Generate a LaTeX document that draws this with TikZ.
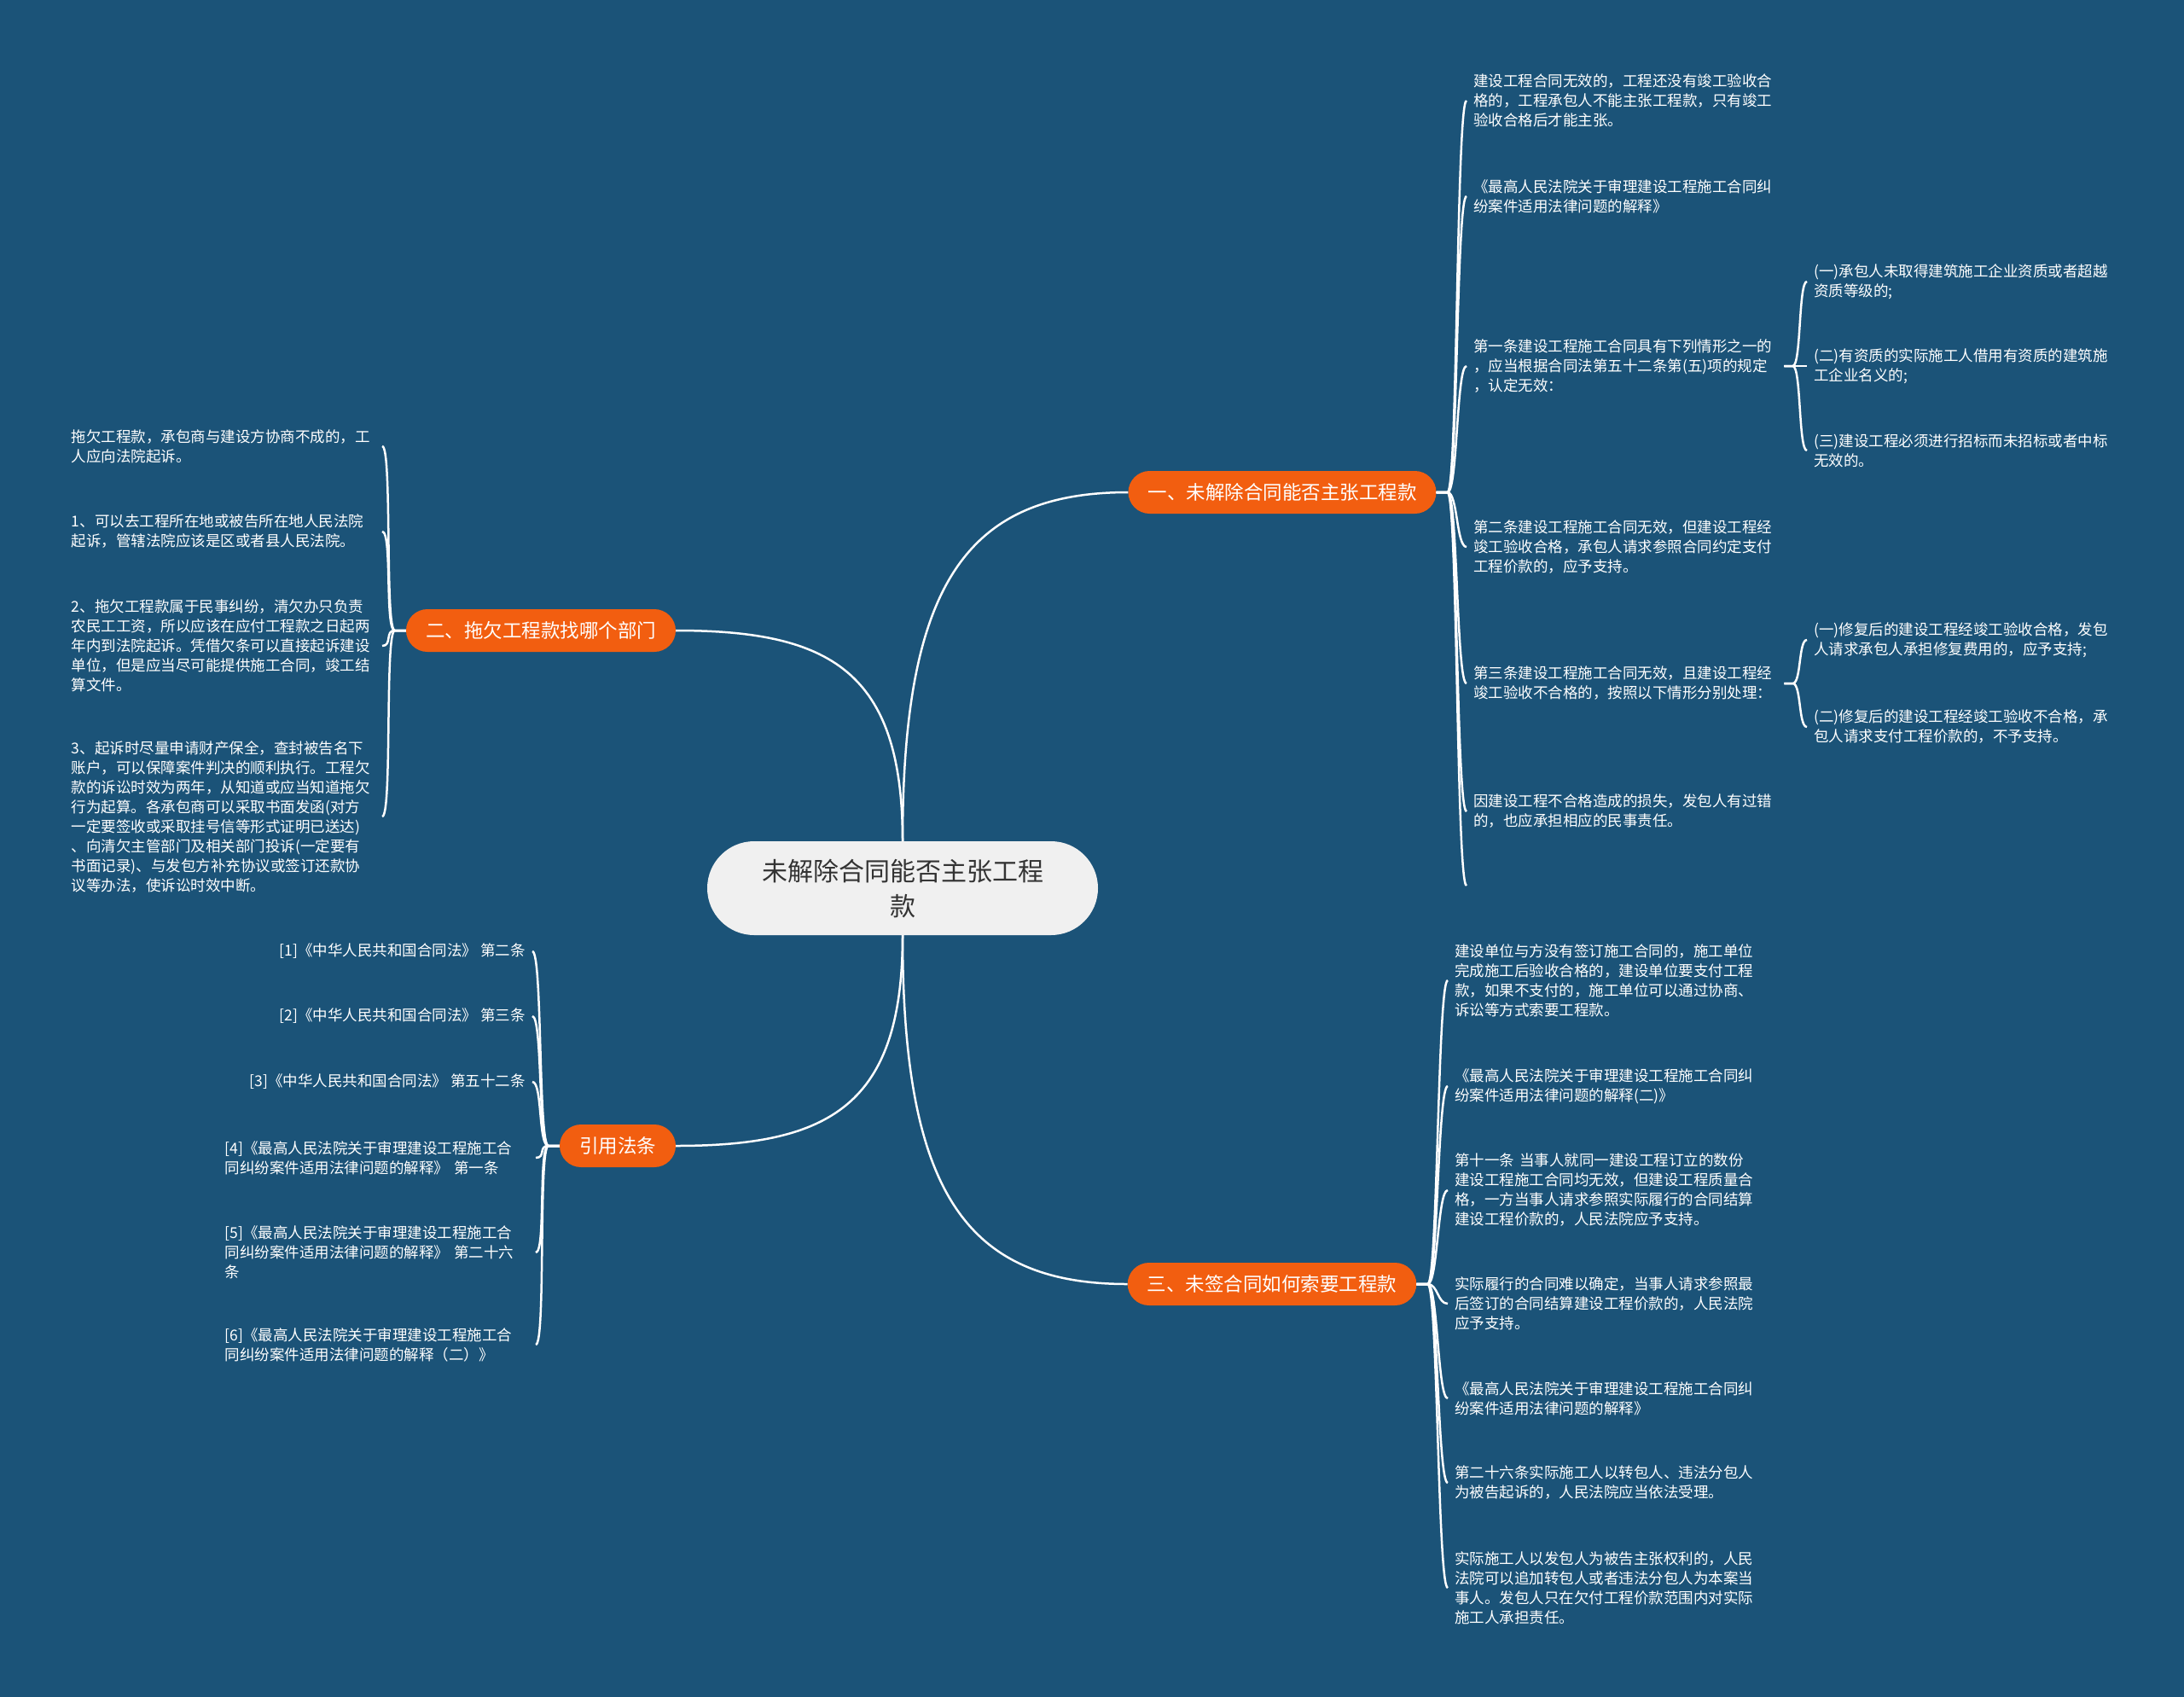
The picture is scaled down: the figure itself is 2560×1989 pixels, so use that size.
\documentclass[tikz,border=0pt]{standalone}
\usepackage{fontspec}
\setmainfont{Noto Sans CJK SC}
\definecolor{bgblue}{RGB}{27,83,120}
\definecolor{topicorange}{RGB}{242,94,16}
\definecolor{rootgray}{RGB}{240,240,240}
\definecolor{rootink}{RGB}{51,51,51}

\begin{document}
\begin{tikzpicture}[x=1pt,y=-1pt,
    link/.style={white,line width=2.5pt},
    root/.style={fill=rootgray,text=rootink,rounded corners=55pt,minimum width=458pt,minimum height=110pt,align=center,font=\fontsize{30}{41}\selectfont},
    topic/.style={fill=topicorange,text=white,rounded corners=25pt,minimum height=50pt,inner xsep=23pt,font=\fontsize{22.5}{27}\selectfont},
    leaf/.style={text=white,font=\fontsize{17.5}{23}\selectfont,inner xsep=8pt,inner ysep=2pt,text width=356pt,align=left},
    refleaf/.style={text=white,font=\fontsize{17.5}{23}\selectfont,inner xsep=8pt,inner ysep=2pt,align=right}]

    \fill[bgblue] (0,0) rectangle (2560,1989);

    \node[root] (root) at (1058,1041) {未解除合同能否主张工程\\款};

    \node[topic] (b1) at (1503,577) {一、未解除合同能否主张工程款};
    \node[topic] (b2) at (634,739) {二、拖欠工程款找哪个部门};
    \node[topic] (b3) at (724,1343) {引用法条};
    \node[topic] (b4) at (1491,1505) {三、未签合同如何索要工程款};

    \node[leaf,anchor=west] (a1) at (1719,118) {建设工程合同无效的，工程还没有竣工验收合\\格的，工程承包人不能主张工程款，只有竣工\\验收合格后才能主张。};
    \node[leaf,anchor=west] (a2) at (1719,230) {《最高人民法院关于审理建设工程施工合同纠\\纷案件适用法律问题的解释》};
    \node[leaf,anchor=west] (a3) at (1719,429) {第一条建设工程施工合同具有下列情形之一的\\，应当根据合同法第五十二条第(五)项的规定\\，认定无效：};
    \node[leaf,anchor=west] (a4) at (1719,641) {第二条建设工程施工合同无效，但建设工程经\\竣工验收合格，承包人请求参照合同约定支付\\工程价款的，应予支持。};
    \node[leaf,anchor=west] (a5) at (1719,801) {第三条建设工程施工合同无效，且建设工程经\\竣工验收不合格的，按照以下情形分别处理：};
    \node[leaf,anchor=west] (a6) at (1719,951) {因建设工程不合格造成的损失，发包人有过错\\的，也应承担相应的民事责任。};
    \coordinate (a7) at (1719,1038);

    \node[leaf,anchor=west] (s1) at (2118,330) {(一)承包人未取得建筑施工企业资质或者超越\\资质等级的;};
    \node[leaf,anchor=west] (s2) at (2118,429) {(二)有资质的实际施工人借用有资质的建筑施\\工企业名义的;};
    \node[leaf,anchor=west] (s3) at (2118,528) {(三)建设工程必须进行招标而未招标或者中标\\无效的。};

    \node[leaf,anchor=west] (t1) at (2118,750) {(一)修复后的建设工程经竣工验收合格，发包\\人请求承包人承担修复费用的，应予支持;};
    \node[leaf,anchor=west] (t2) at (2118,852) {(二)修复后的建设工程经竣工验收不合格，承\\包人请求支付工程价款的，不予支持。};

    \node[leaf,anchor=east] (m1) at (448,523) {拖欠工程款，承包商与建设方协商不成的，工\\人应向法院起诉。};
    \node[leaf,anchor=east] (m2) at (448,623) {1、可以去工程所在地或被告所在地人民法院\\起诉，管辖法院应该是区或者县人民法院。};
    \node[leaf,anchor=east] (m3) at (448,757) {2、拖欠工程款属于民事纠纷，清欠办只负责\\农民工工资，所以应该在应付工程款之日起两\\年内到法院起诉。凭借欠条可以直接起诉建设\\单位，但是应当尽可能提供施工合同，竣工结\\算文件。};
    \node[leaf,anchor=east] (m4) at (448,957) {3、起诉时尽量申请财产保全，查封被告名下\\账户，可以保障案件判决的顺利执行。工程欠\\款的诉讼时效为两年，从知道或应当知道拖欠\\行为起算。各承包商可以采取书面发函(对方\\一定要签收或采取挂号信等形式证明已送达)\\、向清欠主管部门及相关部门投诉(一定要有\\书面记录)、与发包方补充协议或签订还款协\\议等办法，使诉讼时效中断。};

    \node[refleaf,anchor=east] (r1) at (624,1115) {[1]《中华人民共和国合同法》 第二条};
    \node[refleaf,anchor=east] (r2) at (624,1191) {[2]《中华人民共和国合同法》 第三条};
    \node[refleaf,anchor=east] (r3) at (624,1268) {[3]《中华人民共和国合同法》 第五十二条};
    \node[leaf,anchor=east] (r4) at (628,1357) {[4]《最高人民法院关于审理建设工程施工合\\同纠纷案件适用法律问题的解释》 第一条};
    \node[leaf,anchor=east] (r5) at (628,1468) {[5]《最高人民法院关于审理建设工程施工合\\同纠纷案件适用法律问题的解释》 第二十六\\条};
    \node[leaf,anchor=east] (r6) at (628,1576) {[6]《最高人民法院关于审理建设工程施工合\\同纠纷案件适用法律问题的解释（二）》};

    \node[leaf,anchor=west] (n1) at (1697,1149) {建设单位与方没有签订施工合同的，施工单位\\完成施工后验收合格的，建设单位要支付工程\\款，如果不支付的，施工单位可以通过协商、\\诉讼等方式索要工程款。};
    \node[leaf,anchor=west] (n2) at (1697,1273) {《最高人民法院关于审理建设工程施工合同纠\\纷案件适用法律问题的解释(二)》};
    \node[leaf,anchor=west] (n3) at (1697,1395) {第十一条 当事人就同一建设工程订立的数份\\建设工程施工合同均无效，但建设工程质量合\\格，一方当事人请求参照实际履行的合同结算\\建设工程价款的，人民法院应予支持。};
    \node[leaf,anchor=west] (n4) at (1697,1528) {实际履行的合同难以确定，当事人请求参照最\\后签订的合同结算建设工程价款的，人民法院\\应予支持。};
    \node[leaf,anchor=west] (n5) at (1697,1639) {《最高人民法院关于审理建设工程施工合同纠\\纷案件适用法律问题的解释》};
    \node[leaf,anchor=west] (n6) at (1697,1738) {第二十六条实际施工人以转包人、违法分包人\\为被告起诉的，人民法院应当依法受理。};
    \node[leaf,anchor=west] (n7) at (1697,1861) {实际施工人以发包人为被告主张权利的，人民\\法院可以追加转包人或者违法分包人为本案当\\事人。发包人只在欠付工程价款范围内对实际\\施工人承担责任。};

    \draw[link] (root.north) .. controls +(0,-300) and +(-190,0) .. (b1.west);
    \draw[link] (root.north) .. controls +(0,-200) and +(180,0) .. (b2.east);
    \draw[link] (root.south) .. controls +(0,200) and +(180,0) .. (b3.east);
    \draw[link] (root.south) .. controls +(0,300) and +(-190,0) .. (b4.west);

    \foreach \n in {a1,a2,a3,a4,a5,a6}
        \draw[link] (b1.east) -- ++(13,0) .. controls +(12,0) and +(-12,0) .. (\n.west);
    \draw[link] (b1.east) -- ++(13,0) .. controls +(12,0) and +(-12,0) .. (a7);
    \foreach \n in {s1,s2,s3}
        \draw[link] (a3.east) -- ++(10,0) .. controls +(10,0) and +(-10,0) .. (\n.west);
    \foreach \n in {t1,t2}
        \draw[link] (a5.east) -- ++(10,0) .. controls +(10,0) and +(-10,0) .. (\n.west);
    \foreach \n in {m1,m2,m3,m4}
        \draw[link] (b2.west) -- ++(-13,0) .. controls +(-12,0) and +(12,0) .. (\n.east);
    \foreach \n in {r1,r2,r3,r4,r5,r6}
        \draw[link] (b3.west) -- ++(-13,0) .. controls +(-12,0) and +(12,0) .. (\n.east);
    \foreach \n in {n1,n2,n3,n4,n5,n6,n7}
        \draw[link] (b4.east) -- ++(13,0) .. controls +(12,0) and +(-12,0) .. (\n.west);
\end{tikzpicture}
\end{document}
